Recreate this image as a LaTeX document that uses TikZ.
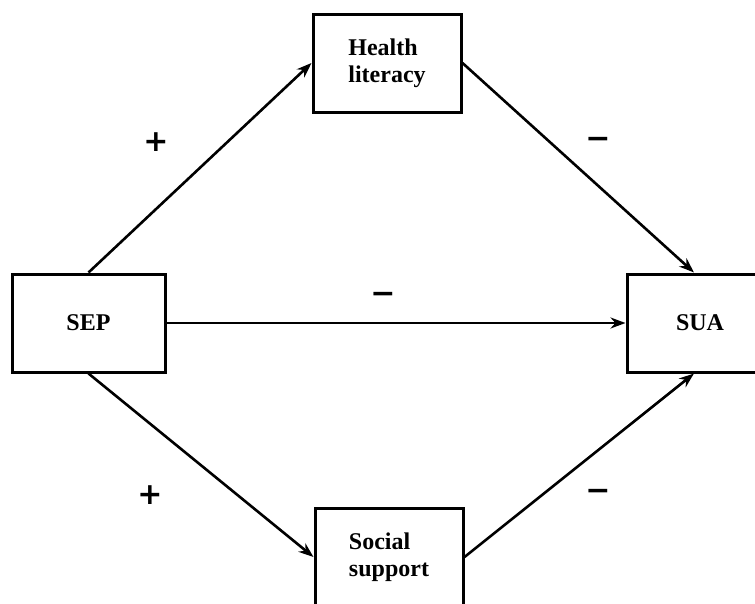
\documentclass[tikz,border=0pt]{standalone}
\usepackage{fontspec}
\setmainfont{Liberation Serif}
\newfontfamily\signfont{DejaVu Sans}
\usetikzlibrary{arrows.meta}
\begin{document}
\begin{tikzpicture}[x=1pt,y=-1pt,
  box/.style={draw=black, line width=3pt, fill=white, inner sep=0pt,
    minimum height=98pt, font=\fontsize{24}{27}\selectfont\bfseries, align=left},
  conn/.style={line width=2.6pt, -{Stealth[length=15pt,width=11pt]}},
  sign/.style={font=\fontsize{30}{30}\selectfont\signfont\bfseries, inner sep=0pt}]
\clip (0,0) rectangle (755,603);
\fill[white] (0,0) rectangle (755,603);
\node[box, minimum width=148pt] (health) at (387,63) {Health\\literacy};
\node[box, minimum width=153pt] (sep) at (88.5,323) {SEP};
\node[box, minimum width=146pt] (sua) at (700,323) {SUA};
\node[box, minimum width=148pt] (social) at (389,557) {Social\\support};
\draw[conn] (sep.north) -- (health.west);
\draw[conn] (health.east) -- ([xshift=-6pt]sua.north);
\draw[conn] (sep.east) -- (sua.west);
\draw[conn] (sep.south) -- (social.west);
\draw[conn] (social.east) -- ([xshift=-6pt]sua.south);
\node[sign] (p1) at (156,142) {+};
\node[sign] (m1) at (598,143) {−};
\node[sign] (m2) at (383,298) {−};
\node[sign] (p2) at (150,495) {+};
\node[sign] (m3) at (598,495) {−};
\end{tikzpicture}
\end{document}
